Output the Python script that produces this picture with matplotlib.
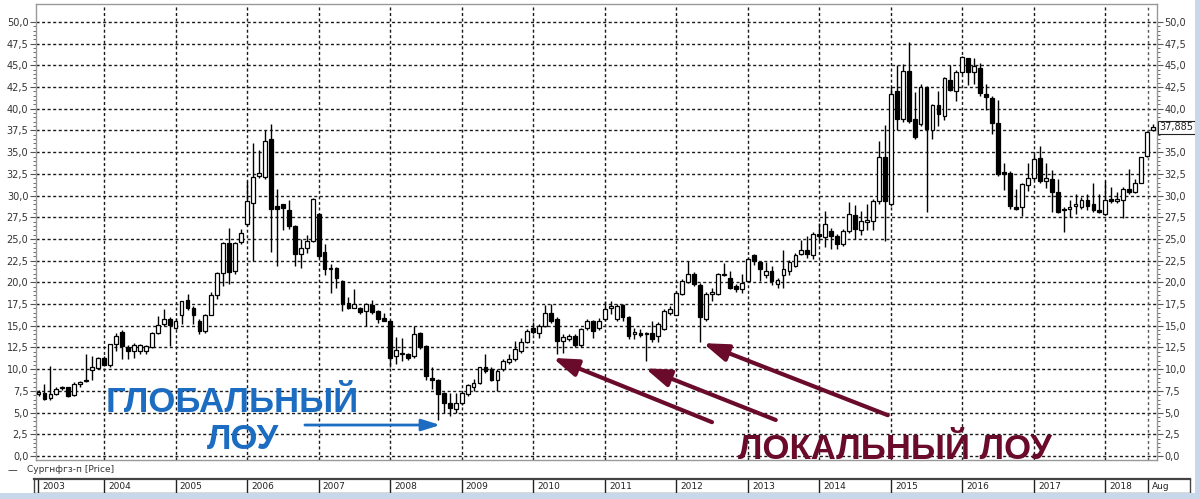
import matplotlib
matplotlib.use("Agg")
import matplotlib.pyplot as plt
from matplotlib.patches import Rectangle

# monthly candles, Jan 2003 .. Aug 2018
opens = [
    7.1, 7.3, 6.7, 7.2, 7.8, 7.9, 7.0, 8.3, 8.6, 9.9, 10.1, 11.3,          # 2003
    10.5, 12.9, 14.3, 12.6, 12.1, 12.1, 12.1, 12.5, 14.2, 15.2, 15.8, 14.8,  # 2004
    16.3, 18.0, 17.1, 15.6, 14.4, 16.3, 18.5, 21.1, 24.5, 21.3, 24.6, 26.7,  # 2005
    29.2, 32.3, 32.1, 36.5, 28.8, 29.0, 28.3, 26.5, 23.3, 24.0, 24.8, 27.9,  # 2006
    23.5, 21.5, 21.7, 20.2, 17.6, 17.1, 17.1, 16.7, 17.4, 16.7, 15.9, 15.6,  # 2007
    11.5, 11.9, 11.7, 11.5, 14.2, 12.7, 9.0, 8.8, 7.3, 6.1, 5.4, 6.1,        # 2008
    7.1, 8.0, 8.4, 10.2, 10.0, 8.8, 10.0, 10.8, 11.2, 12.1, 13.1, 14.8,      # 2009
    14.2, 15.0, 16.5, 15.8, 13.3, 13.5, 13.8, 12.8, 14.7, 15.5, 14.7, 15.8,  # 2010
    17.1, 15.8, 17.4, 16.0, 14.0, 14.2, 14.2, 14.2, 13.8, 14.6, 16.5, 16.3,  # 2011
    18.7, 20.0, 21.0, 19.7, 15.8, 18.7, 18.7, 20.8, 20.5, 19.6, 19.2, 20.2,  # 2012
    23.1, 22.3, 20.8, 21.3, 19.8, 20.8, 21.3, 21.9, 23.3, 23.7, 23.1, 25.6,  # 2013
    25.2, 25.9, 25.3, 24.4, 25.9, 27.8, 26.0, 26.9, 27.1, 29.4, 34.4, 29.0,  # 2014
    42.1, 38.8, 44.3, 38.8, 38.2, 42.5, 37.5, 40.4, 39.2, 43.3, 42.1, 44.2,  # 2015
    45.8, 44.2, 44.7, 41.7, 41.2, 38.4, 32.7, 32.6, 28.7, 28.7, 31.2, 32.0,  # 2016
    34.3, 31.7, 31.9, 30.4, 28.5, 28.5, 28.8, 28.7, 29.5, 29.0, 28.3, 27.9,  # 2017
    29.6, 29.4, 29.5, 30.8, 30.4, 31.5, 34.6, 37.5,                          # 2018
]
highs = [
    7.6, 8.3, 10.4, 7.9, 8.1, 8.0, 8.5, 8.6, 11.7, 11.5, 11.4, 11.5,
    12.9, 14.2, 14.5, 12.8, 13.0, 12.9, 12.8, 14.3, 16.1, 16.9, 16.0, 15.9,
    17.9, 18.7, 17.3, 15.8, 16.4, 18.9, 21.2, 24.6, 26.3, 24.7, 26.2, 31.7,
    36.0, 35.2, 37.5, 38.3, 30.8, 29.0, 29.5, 26.6, 25.0, 25.5, 29.7, 28.0,
    24.4, 22.1, 21.8, 20.3, 18.3, 19.2, 17.2, 17.6, 18.0, 16.8, 16.5, 15.7,
    13.7, 13.6, 11.9, 15.0, 14.3, 12.8, 10.2, 8.9, 7.4, 7.3, 7.3, 7.4,
    8.3, 8.9, 10.3, 11.7, 10.2, 10.0, 11.2, 11.7, 13.3, 13.6, 14.6, 15.4,
    15.2, 17.4, 17.5, 16.0, 14.0, 14.1, 14.0, 14.8, 15.8, 15.7, 15.9, 17.9,
    17.8, 17.5, 17.5, 16.1, 14.8, 14.6, 14.3, 15.5, 15.4, 16.9, 17.3, 19.0,
    20.4, 22.5, 21.2, 19.9, 18.9, 19.4, 21.1, 22.2, 21.3, 19.8, 21.0, 22.9,
    23.3, 22.5, 22.3, 21.9, 20.5, 23.7, 22.6, 23.4, 24.9, 25.4, 25.8, 26.8,
    28.2, 26.3, 25.6, 26.1, 29.3, 28.9, 28.2, 29.0, 29.6, 36.3, 38.1, 42.5,
    45.0, 45.2, 47.7, 41.9, 42.8, 42.6, 40.6, 42.0, 43.7, 45.1, 44.5, 46.1,
    45.9, 45.8, 45.3, 42.9, 41.5, 41.0, 33.8, 32.8, 30.8, 31.5, 33.7, 34.8,
    35.7, 33.8, 32.9, 31.9, 28.7, 29.5, 30.2, 29.8, 30.2, 31.5, 30.2, 31.7,
    31.0, 30.4, 31.0, 33.1, 31.9, 34.5, 37.4, 38.2,
]
lows = [
    6.9, 6.5, 6.5, 7.0, 7.6, 6.8, 6.9, 7.9, 8.5, 8.8, 10.0, 10.4,
    10.3, 12.1, 11.2, 11.2, 11.3, 11.8, 11.7, 12.4, 14.0, 15.0, 12.7, 14.6,
    15.2, 16.8, 15.2, 14.0, 14.2, 16.2, 18.1, 19.6, 19.8, 21.0, 24.4, 26.5,
    22.5, 32.0, 31.9, 23.5, 21.9, 26.0, 26.2, 21.9, 21.7, 23.4, 24.6, 22.8,
    20.8, 18.8, 19.3, 16.7, 16.9, 17.0, 16.4, 15.0, 16.4, 15.3, 15.5, 10.2,
    10.6, 11.0, 11.1, 11.3, 12.3, 8.8, 7.7, 4.2, 5.0, 4.6, 4.9, 5.9,
    6.9, 7.5, 8.3, 9.6, 8.6, 7.5, 9.8, 10.6, 11.0, 11.9, 13.0, 14.0,
    13.6, 14.9, 15.3, 11.7, 11.9, 13.2, 12.6, 12.6, 14.5, 13.6, 14.5, 15.6,
    16.4, 15.6, 15.6, 13.5, 13.5, 13.7, 11.0, 13.1, 13.1, 14.5, 16.3, 16.2,
    18.5, 19.9, 19.6, 13.1, 15.5, 17.9, 18.6, 20.7, 19.2, 18.9, 18.8, 20.0,
    22.0, 20.2, 20.5, 19.7, 19.3, 19.3, 20.8, 21.8, 23.1, 22.8, 22.7, 24.8,
    24.1, 23.8, 23.9, 24.2, 25.7, 25.0, 25.5, 26.0, 26.0, 29.0, 24.8, 28.8,
    37.5, 38.5, 38.4, 36.5, 38.0, 28.1, 36.5, 38.0, 38.7, 42.0, 40.9, 44.0,
    42.7, 42.9, 41.5, 39.9, 37.1, 32.3, 30.6, 28.5, 28.3, 27.7, 30.5, 31.8,
    31.5, 30.9, 28.1, 28.0, 25.8, 27.5, 27.9, 28.5, 28.3, 28.1, 28.0, 27.8,
    29.2, 29.2, 27.4, 30.2, 30.3, 31.4, 34.5, 37.4,
]
closes = [
    7.4, 6.6, 7.1, 7.7, 7.9, 6.9, 8.3, 8.5, 8.7, 10.2, 11.3, 10.5,
    12.9, 13.8, 12.7, 12.1, 12.8, 12.8, 12.7, 14.2, 15.1, 15.8, 15.1, 15.6,
    17.9, 17.1, 16.3, 14.4, 16.3, 18.5, 21.1, 24.5, 21.2, 24.5, 25.7, 29.4,
    32.1, 32.6, 36.3, 28.5, 28.5, 28.6, 26.5, 23.3, 24.0, 24.8, 29.6, 23.0,
    21.6, 21.7, 20.5, 17.5, 17.1, 17.5, 16.6, 17.5, 16.6, 15.8, 15.6, 11.3,
    12.2, 11.7, 11.3, 14.0, 12.5, 9.2, 8.8, 7.1, 6.1, 5.5, 6.1, 7.3,
    8.2, 8.4, 10.2, 9.8, 8.8, 9.8, 11.0, 11.2, 12.3, 13.1, 14.4, 14.3,
    15.0, 16.5, 15.5, 13.3, 13.7, 13.8, 12.8, 14.6, 15.5, 14.4, 15.6, 16.9,
    17.3, 17.3, 16.0, 13.8, 14.3, 13.9, 14.0, 13.5, 15.2, 16.7, 16.9, 18.8,
    20.2, 21.0, 19.8, 16.0, 18.7, 18.8, 21.0, 21.0, 19.4, 19.2, 19.9, 22.7,
    22.5, 21.5, 21.3, 20.2, 20.3, 21.5, 22.3, 23.2, 23.7, 23.3, 25.6, 25.3,
    26.7, 25.3, 24.4, 25.9, 27.9, 26.2, 27.1, 27.2, 29.4, 34.4, 29.4, 41.7,
    38.8, 44.4, 38.6, 36.8, 42.5, 37.7, 40.4, 39.4, 43.5, 42.2, 44.2, 46.0,
    44.2, 44.9, 41.8, 41.4, 38.4, 32.5, 32.5, 28.8, 28.5, 31.3, 32.0, 34.2,
    31.7, 32.0, 30.4, 28.1, 28.3, 28.7, 29.0, 29.5, 28.8, 28.3, 28.1, 29.5,
    29.4, 29.5, 30.8, 30.4, 31.5, 34.4, 37.3, 37.885,
]
years = list(range(2003, 2019))
y_ticks = [i * 2.5 for i in range(21)]
last_price = closes[-1]

W, H = 1200, 499
fig = plt.figure(figsize=(W / 100, H / 100), dpi=100)
fig.patch.set_facecolor("white")


def px_box(x0, y0, x1, y1):
    # pixel box (top-left origin) -> figure fraction rect
    return [x0 / W, 1 - y1 / H, (x1 - x0) / W, (y1 - y0) / H]


ax = fig.add_axes(px_box(36, 4, 1157, 460))
ax.set_xlim(-0.42, 187.67)
ax.set_ylim(-0.46, 52.07)

# grid: dotted, year boundaries sit on the December candle
grid_kw = dict(color="#1a1a1a", linewidth=1.0, linestyle=(0, (2.2, 1.8)), zorder=0)
for v in y_ticks:
    ax.axhline(v, **grid_kw)
year_marks = [11 + 12 * k for k in range(15)]
for m in year_marks:
    ax.axvline(m, **grid_kw)
ax.axvline(186.1, color="#555555", linewidth=1.0, linestyle=(0, (2, 2)), zorder=0)

# candles
for m in range(len(closes)):
    o, h, l, c = opens[m], highs[m], lows[m], closes[m]
    ax.vlines(m, l, h, color="black", linewidth=1.0, zorder=2)
    body = max(abs(c - o), 0.15)
    face = "white" if c >= o else "black"
    ax.bar(m, body, bottom=min(o, c), width=0.64, facecolor=face,
           edgecolor="black", linewidth=0.9, zorder=3)

ax.set_yticks(y_ticks)
ax.set_yticklabels([f"{v:.1f}".replace(".", ",") for v in y_ticks])
ax.set_yticks([i * 0.5 for i in range(101)], minor=True)
ax.set_xticks([])
ax.tick_params(axis="y", which="both", left=True, right=True,
               labelleft=True, labelright=True, labelsize=7,
               labelcolor="#333333", color="#555555", pad=1.5)
ax.tick_params(axis="y", which="major", length=4)
ax.tick_params(axis="y", which="minor", length=2)
for s in ax.spines.values():
    s.set_color("#999999")
    s.set_linewidth(1.0)

# the price tag hides the right-hand 37,5 label, as in the reference
ax.yaxis.get_major_ticks()[15].label2.set_visible(False)
ax.text(1.0025, last_price, f"{last_price:.3f}".replace(".", ","),
        transform=ax.get_yaxis_transform(), fontsize=7, va="center", ha="left",
        color="#222222", zorder=6, clip_on=False,
        bbox=dict(boxstyle="square,pad=0.15", facecolor="white",
                  edgecolor="#222222", linewidth=0.8))

# annotations
blue = "#1c6dc2"
maroon = "#6b0b2c"
font_kw = dict(family=["Liberation Sans", "DejaVu Sans"], fontweight="bold")
ax.text(32.5, 6.2, "ГЛОБАЛЬНЫЙ", color=blue, fontsize=25, ha="center",
        va="center", zorder=8, **font_kw)
ax.text(34.3, 1.85, "ЛОУ", color=blue, fontsize=25, ha="center",
        va="center", zorder=8, **font_kw)
ax.annotate("", xy=(67.4, 3.57), xytext=(44.7, 3.57), zorder=8,
            arrowprops=dict(arrowstyle="-|>,head_length=0.7,head_width=0.22",
                            color=blue, lw=2.0, mutation_scale=16,
                            shrinkA=0, shrinkB=0))

ax.text(143.7, 0.8, "ЛОКАЛЬНЫЙ ЛОУ", color=maroon, fontsize=25, ha="center",
        va="center", zorder=8, **font_kw)
arrow_kw = dict(arrowstyle="-|>,head_length=0.75,head_width=0.26",
                color=maroon, lw=3.0, mutation_scale=20, shrinkA=0, shrinkB=0)
for tail, head in [((113.0, 3.9), (86.3, 11.3)),
                   ((123.7, 4.15), (101.8, 10.1)),
                   ((142.5, 4.7), (111.5, 13.0))]:
    ax.annotate("", xy=head, xytext=tail, zorder=8, arrowprops=arrow_kw)

# legend line under the plot
fig.text(8 / W, 1 - 470 / H, "—", fontsize=7, color="#333333", va="center")
fig.text(27 / W, 1 - 470 / H, "Сургнфгз-п [Price]", fontsize=6.5,
         color="#333333", va="center")

# time navigator bar with year cells
bar = fig.add_axes(px_box(34, 479, 1190, 493))
bar.set_xlim(-0.755, 193.2)
bar.set_ylim(0, 1)
bar.set_xticks([])
bar.set_yticks([])
for s in bar.spines.values():
    s.set_color("#444444")
    s.set_linewidth(1.0)
bar.spines["top"].set_linewidth(1.6)
seps = [-0.1] + year_marks + [186.1]
labels = [str(y) for y in years] + ["Aug"]
for m, lab in zip(seps, labels):
    bar.axvline(m, color="#222222", linewidth=1.0)
    bar.text(m + 0.7, 0.45, lab, fontsize=6.5, va="center", ha="left",
             color="#222222")

# light blue window frame at bottom and right
fig.patches.append(Rectangle((0, 0), 1, 6 / H, transform=fig.transFigure,
                             facecolor="#c8d8ea", edgecolor="none"))
fig.patches.append(Rectangle((1195 / W, 0), 5 / W, 1, transform=fig.transFigure,
                             facecolor="#c8d8ea", edgecolor="none"))

fig.savefig("out.png", dpi=100)
